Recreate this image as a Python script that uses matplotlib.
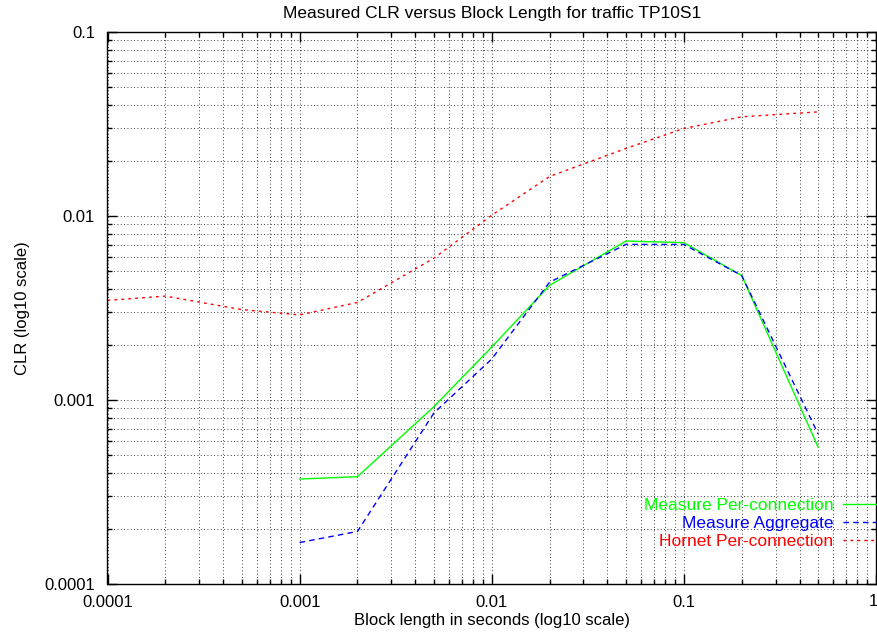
import matplotlib
matplotlib.use("Agg")
import matplotlib.pyplot as plt
from matplotlib.ticker import LogLocator, FuncFormatter, NullFormatter

plt.rcParams['font.family'] = ['Liberation Sans', 'DejaVu Sans']
plt.rcParams['font.size'] = 12

# block length in seconds
x_hornet = [0.0001, 0.0002, 0.0005, 0.001, 0.002, 0.005, 0.01, 0.02, 0.05, 0.1, 0.2, 0.5]
clr_hornet = [0.00348, 0.00367, 0.0031, 0.0029, 0.00339, 0.0059, 0.0101, 0.0164, 0.0233, 0.0299, 0.0346, 0.0368]

x_measure = [0.001, 0.002, 0.005, 0.01, 0.02, 0.05, 0.1, 0.2, 0.5]
clr_per_conn = [0.000372, 0.000383, 0.00092, 0.00194, 0.0042, 0.00731, 0.00716, 0.00475, 0.000553]
clr_aggregate = [0.000168, 0.000193, 0.00085, 0.00167, 0.00437, 0.00701, 0.00700, 0.00475, 0.000653]

fig = plt.figure(figsize=(8.78, 6.35), dpi=100)
ax = fig.add_axes([107.5/878, 1 - 584/635, (876 - 107.5)/878, (584 - 32)/635])

ax.plot(x_measure, clr_per_conn, color='#00ff00', lw=1.0, ls='-', label='Measure Per-connection')
ax.plot(x_measure, clr_aggregate, color='#0000ff', lw=1.0, ls=(0, (4, 3)), label='Measure Aggregate')
ax.plot(x_hornet, clr_hornet, color='#ff0000', lw=1.0, ls=(0, (2, 3)), label='Hornet Per-connection')

ax.set_xscale('log')
ax.set_yscale('log')
ax.set_xlim(0.0001, 1)
ax.set_ylim(0.0001, 0.1)

fmt = FuncFormatter(lambda v, p: '%g' % v)
xfmt = FuncFormatter(lambda v, p: '' if v >= 0.99 else '%g' % v)
for a, f in ((ax.xaxis, xfmt), (ax.yaxis, fmt)):
    a.set_major_locator(LogLocator(base=10))
    a.set_minor_locator(LogLocator(base=10, subs=range(2, 10)))
    a.set_major_formatter(f)
    a.set_minor_formatter(NullFormatter())

ax.tick_params(which='both', direction='in', top=True, right=True, width=1.0, labelsize=12)
ax.tick_params(which='major', length=7)
ax.tick_params(axis='y', which='major', pad=9)
ax.tick_params(axis='x', which='major', pad=8)
ax.tick_params(which='minor', length=3.5)
ax.grid(True, which='both', color='black', ls=(0, (1, 3)), lw=0.6)
for s in ax.spines.values():
    s.set_linewidth(1.0)

# the "1" label sits at the figure edge, like gnuplot puts it
fig.text(873.5/878, 1 - 594/635, '1', ha='center', va='top', fontsize=12)

ax.set_title('Measured CLR versus Block Length for traffic TP10S1', fontsize=12.5, pad=10)
ax.set_xlabel('Block length in seconds (log10 scale)', labelpad=2)
ax.set_ylabel('CLR (log10 scale)', labelpad=10)

ax.legend(loc='lower right', bbox_to_anchor=(1.0, 0.064), frameon=False, markerfirst=False,
          labelcolor='linecolor', handlelength=1.9, handletextpad=0.55, labelspacing=0.15,
          borderaxespad=0, borderpad=0, fontsize=12.5)

fig.savefig('out.png', dpi=100)
